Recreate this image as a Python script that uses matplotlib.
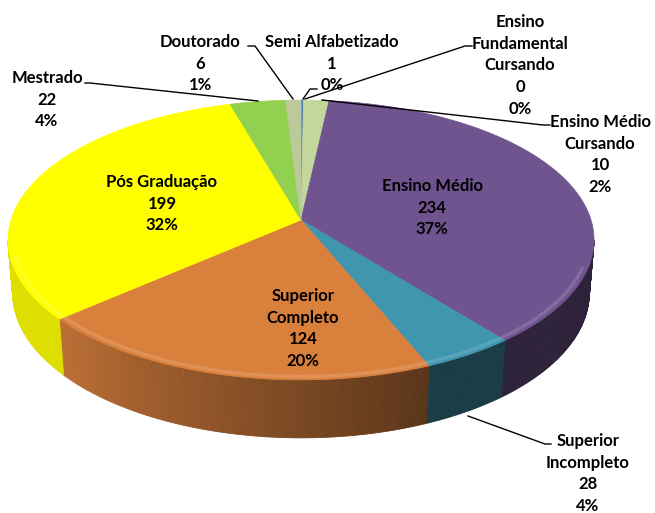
import textwrap
import numpy as np
import matplotlib.pyplot as plt
from matplotlib.patches import Polygon
from matplotlib.colors import to_rgb

# escolaridade dos participantes
categories = ["Semi Alfabetizado", "Ensino Fundamental Cursando", "Ensino Médio Cursando",
              "Ensino Médio", "Superior Incompleto", "Superior Completo",
              "Pós Graduação", "Mestrado", "Doutorado"]
values = [1, 0, 10, 234, 28, 124, 199, 22, 6]
colors = ["#4F81BD", "#C0504D", "#C3D69B", "#705490", "#3F96AE",
          "#DA803D", "#FFFF00", "#92D050", "#BCC99B"]

# label placement: (x, y of first line, wrap width, leader line points)
label_layout = {
    "Semi Alfabetizado": (332, 42, 20, [(303, 99), (310, 89), (317, 89)]),
    "Ensino Fundamental Cursando": (520, 22, 12, [(305, 99), (465, 46), (472, 46)]),
    "Ensino Médio Cursando": (600, 122, 12, [(322, 100), (543, 125), (550, 125)]),
    "Ensino Médio": (432, 186, 20, None),
    "Superior Incompleto": (588, 441, 10, [(468, 416), (545, 444), (551, 444)]),
    "Superior Completo": (303, 296, 10, None),
    "Pós Graduação": (162, 182, 20, None),
    "Mestrado": (47, 78, 20, [(258, 101), (90, 83), (85, 83)]),
    "Doutorado": (200, 42, 20, [(293, 99), (255, 46), (248, 46)]),
}
LINE_H = 21.7

# view of the tilted disc
CX, CY, S = 301.0, 220.0, 290.0
ELEV = np.radians(28.2)
DIST = 6.17
DEPTH = 0.208


def project(theta_deg, r=1.0, yh=0.0):
    t = np.radians(theta_deg)
    X = r * np.sin(t)
    Z = r * np.cos(t)
    v = Z * np.sin(ELEV) + yh * np.cos(ELEV)
    D = Z * np.cos(ELEV) - yh * np.sin(ELEV)
    f = DIST / (DIST + D)
    return CX + S * X * f, CY - S * v * f


def shade(theta):
    return 0.40 + 0.47 * np.clip((theta - 155.0) / 75.0, 0, 1)


def percents(vals):
    # largest remainder, so the labels add up to 100
    raw = np.array(vals, dtype=float) / sum(vals) * 100
    out = np.floor(raw).astype(int)
    rest = raw - out
    for i in np.argsort(-rest)[:100 - out.sum()]:
        out[i] += 1
    return out


pcts = percents(values)
total = sum(values)
bounds = np.concatenate([[0], np.cumsum(values)]) / total * 360.0

fig = plt.figure(figsize=(6.55, 5.13), dpi=100)
ax = fig.add_axes([0, 0, 1, 1])
ax.set_xlim(0, 655)
ax.set_ylim(513, 0)
ax.axis("off")

# visible part of the outer wall lies between the two silhouette points
tt = np.linspace(0, 360, 3601)
xs, _ = project(tt)
th_right = tt[np.argmax(xs)]
th_left = tt[np.argmin(xs)]

for i, v in enumerate(values):
    a0, a1 = bounds[i], bounds[i + 1]
    lo, hi = max(a0, th_right), min(a1, th_left)
    if v == 0 or hi <= lo:
        continue
    base = np.array(to_rgb(colors[i]))
    steps = np.linspace(lo, hi, max(2, int((hi - lo) * 2) + 1))
    for s0, s1 in zip(steps[:-1], steps[1:]):
        p = [project(s0), project(s1), project(s1, yh=-DEPTH), project(s0, yh=-DEPTH)]
        c = base * shade((s0 + s1) / 2)
        ax.add_patch(Polygon(p, closed=True, facecolor=c, edgecolor=c, lw=0.6))

# top faces
for i, v in enumerate(values):
    if v == 0:
        continue
    a0, a1 = bounds[i], bounds[i + 1]
    arc = np.linspace(a0, a1, max(3, int((a1 - a0) * 2) + 2))
    ax_, ay_ = project(arc)
    pts = [(CX, CY)] + list(zip(ax_, ay_))
    ax.add_patch(Polygon(pts, closed=True, facecolor=colors[i],
                         edgecolor=colors[i], lw=0.5))

# soft highlight along the front rim
rim = np.linspace(110, 255, 300)
rx, ry = project(rim, r=0.982)
ax.plot(rx, ry, color="white", alpha=0.14, lw=2.5, solid_capstyle="round")

font = dict(family=["Lato", "DejaVu Sans"], fontsize=12,
            fontweight="bold", color="black", ha="center", va="center")

for i, name in enumerate(categories):
    x, y, width, leader = label_layout[name]
    lines = textwrap.fill(name, width).split("\n") + [str(values[i]), f"{pcts[i]}%"]
    for k, line in enumerate(lines):
        ax.text(x, y + k * LINE_H, line, **font)
    if leader:
        lx, ly = zip(*leader)
        ax.plot(lx, ly, color="black", lw=1.0)

fig.savefig("out.png", dpi=100)
